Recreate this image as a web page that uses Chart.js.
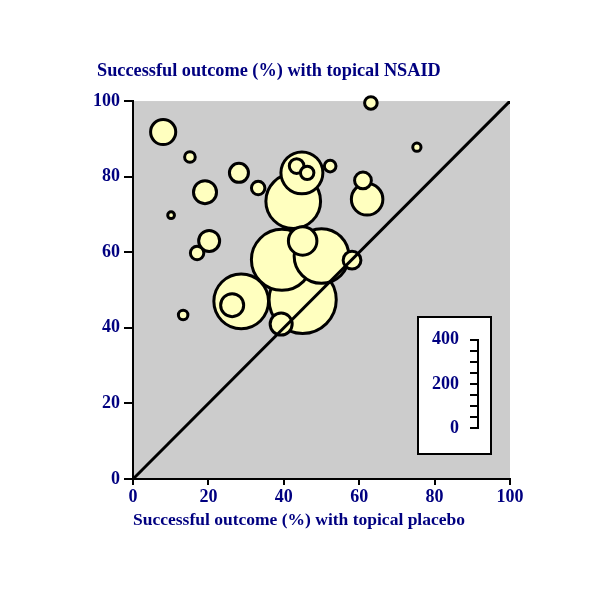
<!DOCTYPE html>
<html>
<head>
<meta charset="utf-8">
<script src="https://cdn.jsdelivr.net/npm/chart.js@4"></script>
<style>
  body { margin: 0; background: #fff; }
  #wrap { position: relative; width: 600px; height: 600px; }
  #sizeBox { position: absolute; left: 417px; top: 316px; width: 71px; height: 135px; border: 2px solid #000; background: #fff; }
</style>
</head>
<body>
<div id="wrap">
  <canvas id="mainChart" width="600" height="600"></canvas>
  <div id="sizeBox"><canvas id="sizeChart" width="71" height="135"></canvas></div>
</div>
<script>
// trials: % success with placebo (x), with NSAID (y), number of patients (bubble area)
const placeboPct = [45, 39.5, 50, 28.7, 42.5, 44.8, 45, 62.1, 39.3, 26.3, 58.1, 8, 19.1, 20.2, 28.1, 61, 43.4, 46.2, 33.2, 17, 63.1, 52.3, 15.1, 13.3, 75.3, 10.1];
const nsaidPct   = [47.4, 58, 59, 47, 73.5, 81, 63, 74, 41, 46, 57.9, 91.8, 75.9, 63, 81, 79, 82.8, 81, 77, 59.8, 99.5, 82.8, 85.2, 43.4, 87.8, 69.8];
const patients   = [400, 330, 265, 265, 265, 156, 72, 88, 43, 47, 28, 56, 47, 39, 32, 25, 19, 16, 16, 16, 14, 12, 10, 8, 6, 4];

const equalityLine = [0, 100];
const axisMin = 0, axisMax = 100, axisStep = 20;
const sizeMax = 400, sizeStep = 50, sizeLabelStep = 200;

const navy = '#000080';
const RADIUS_K = 1.68;

const bubbles = placeboPct.map(function(x, i) {
    return { x: x, y: nsaidPct[i], r: RADIUS_K * Math.sqrt(patients[i]) };
});

const plotBackground = {
    id: 'plotBackground',
    beforeDraw: function(chart) {
        const a = chart.chartArea;
        const ctx = chart.ctx;
        ctx.save();
        ctx.fillStyle = '#cccccc';
        ctx.fillRect(a.left, a.top, a.right - a.left, a.bottom - a.top);
        ctx.restore();
    }
};

// the y scale is squeezed to fit the title start, let its labels spill out to the left
const unclipLabels = {
    id: 'unclipLabels',
    afterLayout: function(chart) {
        chart.scales.y.left = 0;
    }
};

const tickFont = { family: 'Liberation Serif', size: 18, weight: 'bold' };

new Chart(document.getElementById('mainChart'), {
    type: 'bubble',
    data: {
        datasets: [
            {
                type: 'line',
                data: equalityLine.map(v => ({ x: v, y: v })),
                borderColor: '#000',
                borderWidth: 3,
                pointRadius: 0,
                fill: false,
                order: 0
            },
            {
                data: bubbles,
                backgroundColor: '#ffffbf',
                borderColor: '#000',
                borderWidth: 3,
                clip: false,
                order: 1
            }
        ]
    },
    options: {
        responsive: false,
        animation: false,
        layout: { padding: { left: 97, right: 90, top: 60, bottom: 69 } },
        plugins: {
            legend: { display: false },
            tooltip: { enabled: false },
            title: {
                display: true,
                text: 'Successful outcome (%) with topical NSAID',
                align: 'start',
                color: navy,
                font: { family: 'Liberation Serif', size: 18.3, weight: 'bold' },
                padding: { top: 0, bottom: 19.1 }
            }
        },
        scales: {
            x: {
                type: 'linear',
                min: axisMin,
                max: axisMax,
                ticks: { stepSize: axisStep, color: navy, font: tickFont, padding: 2, maxRotation: 0 },
                grid: { drawOnChartArea: false, color: '#000', lineWidth: 2, tickLength: 6 },
                border: { color: '#000', width: 2 },
                title: {
                    display: true,
                    text: 'Successful outcome (%) with topical placebo',
                    align: 'start',
                    color: navy,
                    font: { family: 'Liberation Serif', size: 17.5, weight: 'bold' },
                    padding: 0
                },
                afterFit: function(scale) { scale.height = 52; }
            },
            y: {
                type: 'linear',
                min: axisMin,
                max: axisMax,
                ticks: { stepSize: axisStep, color: navy, font: tickFont, padding: 4 },
                grid: { drawOnChartArea: false, color: '#000', lineWidth: 2, tickLength: 9 },
                border: { color: '#000', width: 2 },
                afterFit: function(scale) { scale.width = 36; }
            }
        }
    },
    plugins: [plotBackground, unclipLabels]
});

// bubble size scale (number of patients)
new Chart(document.getElementById('sizeChart'), {
    type: 'scatter',
    data: { datasets: [{ data: [] }] },
    options: {
        responsive: false,
        animation: false,
        layout: { padding: { left: 0, right: 6, top: 17, bottom: 25 } },
        plugins: { legend: { display: false }, tooltip: { enabled: false } },
        scales: {
            x: { display: false, min: 0, max: 1 },
            y: {
                min: 0,
                max: sizeMax,
                ticks: {
                    stepSize: sizeStep,
                    autoSkip: false,
                    color: navy,
                    font: tickFont,
                    padding: 11,
                    callback: v => (v % sizeLabelStep === 0 ? String(v) : '')
                },
                grid: { drawOnChartArea: false, color: '#000', lineWidth: 2, tickLength: 8 },
                border: { color: '#000', width: 2 },
                afterFit: function(scale) { scale.width = 59; }
            }
        }
    }
});
</script>
</body>
</html>
